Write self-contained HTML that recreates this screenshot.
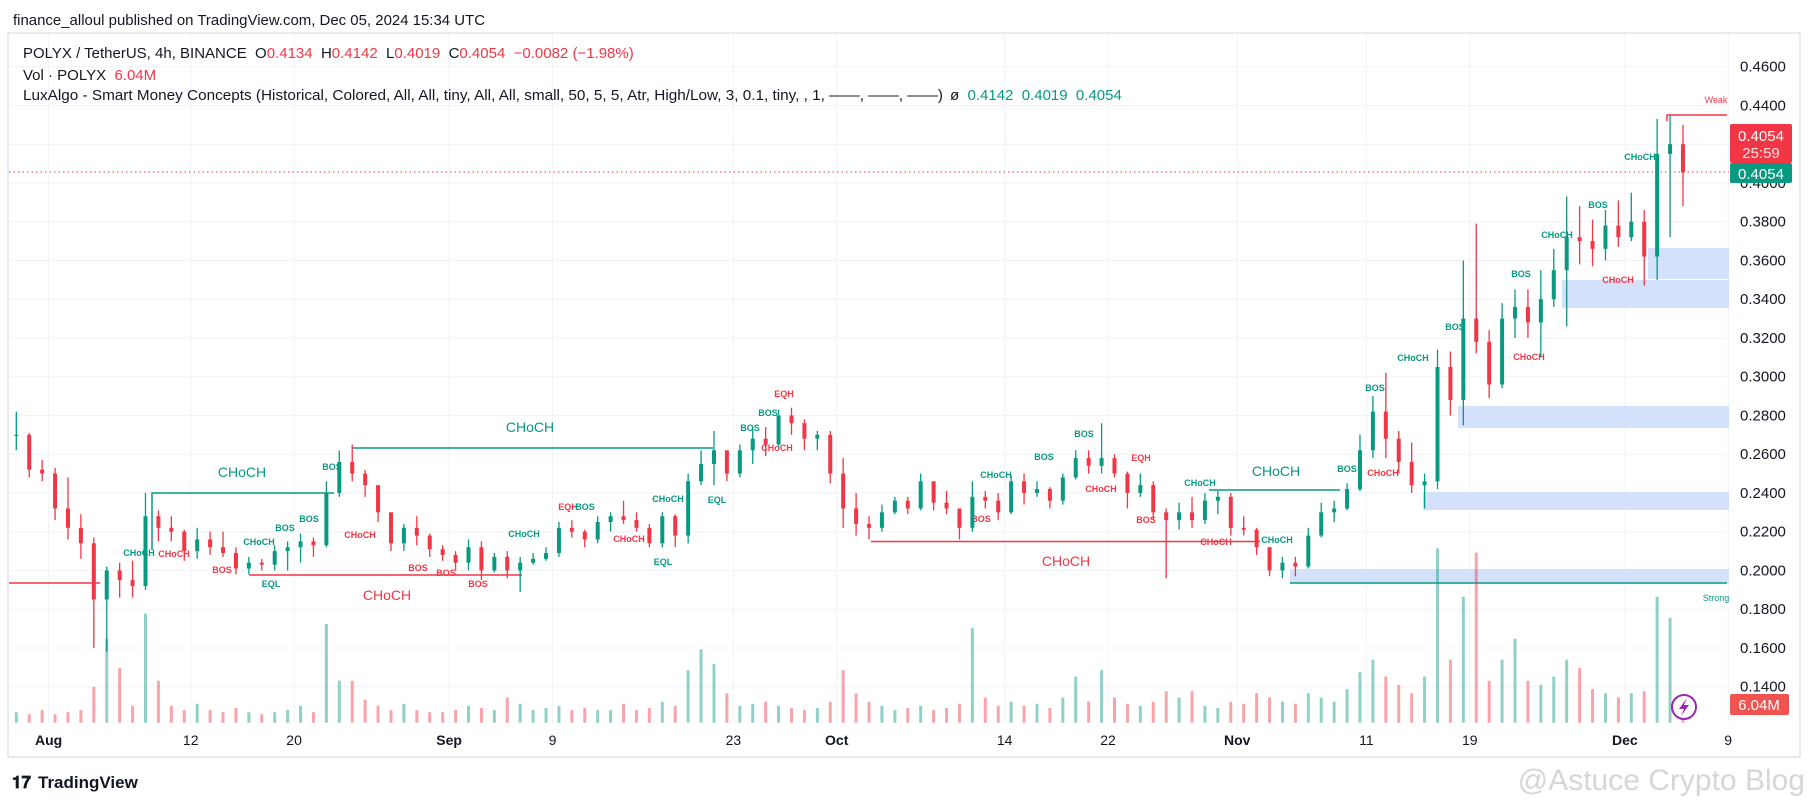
<!DOCTYPE html>
<html><head><meta charset="utf-8">
<style>
html,body{margin:0;padding:0;background:#fff;}
body{width:1814px;height:802px;overflow:hidden;font-family:"Liberation Sans",sans-serif;}
svg{display:block}
svg text{white-space:pre}
</style></head>
<body>
<svg id="chart" width="1814" height="802" viewBox="0 0 1814 802" xmlns="http://www.w3.org/2000/svg" font-family="Liberation Sans, sans-serif">
  <defs><clipPath id="plotclip"><rect x="9" y="34" width="1720" height="689"/></clipPath></defs>
  <text x="13" y="25" font-size="15" fill="#131722" textLength="472" lengthAdjust="spacingAndGlyphs">finance_alloul published on TradingView.com, Dec 05, 2024 15:34 UTC</text>
  <rect x="8" y="33" width="1792" height="724" fill="#fff" stroke="#e0e3eb" stroke-width="1.5"/>
  <g id="grid"></g>
  <g id="overlays" clip-path="url(#plotclip)">
    <rect x="1423" y="492" width="306" height="18" fill="#d3e1fb"/>
    <rect x="1458" y="406" width="271" height="22" fill="#d3e1fb"/>
    <rect x="1562" y="280" width="167" height="28" fill="#d3e1fb"/>
    <rect x="1648" y="248" width="81" height="31" fill="#d3e1fb"/>
    <rect x="1290" y="569" width="439" height="14" fill="#d3e1fb"/>
    <line x1="1290" y1="583" x2="1727" y2="583" stroke="#089981" stroke-width="1.5"/>
    <polyline points="1667,121 1667,115 1727,115" fill="none" stroke="#f23645" stroke-width="1.5"/>
    <line x1="9" y1="583" x2="100" y2="583" stroke="#f23645" stroke-width="1.5"/>
    <polyline points="152,550 152,493 334,493" fill="none" stroke="#089981" stroke-width="1.5"/>
    <line x1="352" y1="448" x2="713" y2="448" stroke="#089981" stroke-width="1.5"/>
    <line x1="249" y1="575" x2="522" y2="575" stroke="#f23645" stroke-width="1.5"/>
    <line x1="871" y1="541.5" x2="1260" y2="541.5" stroke="#f23645" stroke-width="1.5"/>
    <line x1="1209" y1="490" x2="1340" y2="490" stroke="#089981" stroke-width="1.5"/>
    <line x1="9" y1="172" x2="1729" y2="172" stroke="#f23645" stroke-width="1" stroke-dasharray="1.5,3"/>
    <g font-size="9" font-weight="bold">
      <text x="332" y="470" fill="#089981" text-anchor="middle">BOS</text>
      <text x="309" y="522" fill="#089981" text-anchor="middle">BOS</text>
      <text x="285" y="531" fill="#089981" text-anchor="middle">BOS</text>
      <text x="259" y="545" fill="#089981" text-anchor="middle">CHoCH</text>
      <text x="139" y="556" fill="#089981" text-anchor="middle">CHoCH</text>
      <text x="174" y="557" fill="#f23645" text-anchor="middle">CHoCH</text>
      <text x="222" y="573" fill="#f23645" text-anchor="middle">BOS</text>
      <text x="271" y="587" fill="#089981" text-anchor="middle">EQL</text>
      <text x="360" y="538" fill="#f23645" text-anchor="middle">CHoCH</text>
      <text x="418" y="571" fill="#f23645" text-anchor="middle">BOS</text>
      <text x="446" y="576" fill="#f23645" text-anchor="middle">BOS</text>
      <text x="478" y="587" fill="#f23645" text-anchor="middle">BOS</text>
      <text x="524" y="537" fill="#089981" text-anchor="middle">CHoCH</text>
      <text x="568" y="510" fill="#f23645" text-anchor="middle">EQH</text>
      <text x="585" y="510" fill="#089981" text-anchor="middle">BOS</text>
      <text x="784" y="397" fill="#f23645" text-anchor="middle">EQH</text>
      <text x="768" y="416" fill="#089981" text-anchor="middle">BOS</text>
      <text x="750" y="431" fill="#089981" text-anchor="middle">BOS</text>
      <text x="777" y="451" fill="#f23645" text-anchor="middle">CHoCH</text>
      <text x="668" y="502" fill="#089981" text-anchor="middle">CHoCH</text>
      <text x="717" y="503" fill="#089981" text-anchor="middle">EQL</text>
      <text x="629" y="542" fill="#f23645" text-anchor="middle">CHoCH</text>
      <text x="663" y="565" fill="#089981" text-anchor="middle">EQL</text>
      <text x="996" y="478" fill="#089981" text-anchor="middle">CHoCH</text>
      <text x="1044" y="460" fill="#089981" text-anchor="middle">BOS</text>
      <text x="1084" y="437" fill="#089981" text-anchor="middle">BOS</text>
      <text x="1141" y="461" fill="#f23645" text-anchor="middle">EQH</text>
      <text x="1101" y="492" fill="#f23645" text-anchor="middle">CHoCH</text>
      <text x="981" y="522" fill="#f23645" text-anchor="middle">BOS</text>
      <text x="1146" y="523" fill="#f23645" text-anchor="middle">BOS</text>
      <text x="1200" y="486" fill="#089981" text-anchor="middle">CHoCH</text>
      <text x="1277" y="543" fill="#089981" text-anchor="middle">CHoCH</text>
      <text x="1216" y="545" fill="#f23645" text-anchor="middle">CHoCH</text>
      <text x="1347" y="472" fill="#089981" text-anchor="middle">BOS</text>
      <text x="1383" y="476" fill="#f23645" text-anchor="middle">CHoCH</text>
      <text x="1375" y="391" fill="#089981" text-anchor="middle">BOS</text>
      <text x="1413" y="361" fill="#089981" text-anchor="middle">CHoCH</text>
      <text x="1455" y="330" fill="#089981" text-anchor="middle">BOS</text>
      <text x="1521" y="277" fill="#089981" text-anchor="middle">BOS</text>
      <text x="1529" y="360" fill="#f23645" text-anchor="middle">CHoCH</text>
      <text x="1557" y="238" fill="#089981" text-anchor="middle">CHoCH</text>
      <text x="1598" y="208" fill="#089981" text-anchor="middle">BOS</text>
      <text x="1618" y="283" fill="#f23645" text-anchor="middle">CHoCH</text>
      <text x="1640" y="160" fill="#089981" text-anchor="middle">CHoCH</text>
      <text x="1716" y="103" fill="#f23645" text-anchor="middle" font-weight="normal">Weak</text>
      <text x="1716" y="601" fill="#089981" text-anchor="middle" font-weight="normal">Strong</text>
    </g>
    <g font-size="14">
      <text x="242" y="477" fill="#089981" text-anchor="middle">CHoCH</text>
      <text x="530" y="432" fill="#089981" text-anchor="middle">CHoCH</text>
      <text x="387" y="600" fill="#f23645" text-anchor="middle">CHoCH</text>
      <text x="1066" y="566" fill="#f23645" text-anchor="middle">CHoCH</text>
      <text x="1276" y="476" fill="#089981" text-anchor="middle">CHoCH</text>
    </g>
  </g>
  <g id="volume" clip-path="url(#plotclip)"></g>
  <g id="candles" clip-path="url(#plotclip)"></g>
  <g id="yaxis"></g>
  <g id="xaxis"></g>
  <g font-size="15">
    <text x="23" y="58" fill="#131722">POLYX / TetherUS, 4h, BINANCE  O<tspan fill="#f23645">0.4134</tspan>  H<tspan fill="#f23645">0.4142</tspan>  L<tspan fill="#f23645">0.4019</tspan>  C<tspan fill="#f23645">0.4054  −0.0082 (−1.98%)</tspan></text>
    <text x="23" y="80" fill="#131722">Vol · POLYX  <tspan fill="#f23645">6.04M</tspan></text>
    <text x="23" y="100" fill="#131722" textLength="920" lengthAdjust="spacingAndGlyphs">LuxAlgo - Smart Money Concepts (Historical, Colored, All, All, tiny, All, All, small, 50, 5, 5, Atr, High/Low, 3, 0.1, tiny, , 1, ——, ——, ——)</text>
    <text x="950" y="100" fill="#131722">ø  <tspan fill="#089981">0.4142  0.4019  0.4054</tspan></text>
  </g>
  <rect x="1730" y="124" width="62" height="39" rx="2" fill="#f23645"/>
  <text x="1761" y="141" font-size="15" fill="#fff" text-anchor="middle">0.4054</text>
  <text x="1761" y="158" font-size="15" fill="#fde0e2" text-anchor="middle">25:59</text>
  <rect x="1730" y="163" width="62" height="20" rx="2" fill="#089981"/>
  <text x="1761" y="179" font-size="15" fill="#fff" text-anchor="middle">0.4054</text>
  <rect x="1730" y="694" width="59" height="21" rx="2" fill="#f05350"/>
  <text x="1759" y="710" font-size="15" fill="#fff" text-anchor="middle">6.04M</text>
  <g>
    <circle cx="1684" cy="707" r="12" fill="#fff" stroke="#9c27b0" stroke-width="2"/>
    <path d="M1687,698 L1679,709 L1684,709 L1681,716 L1689,705 L1684,705 Z" fill="#9c27b0"/>
  </g>
  <g>
    <text x="12" y="788" font-size="17" font-weight="bold" fill="#131722">𝟏𝟕</text>
    <text x="38" y="788" font-size="17" font-weight="bold" fill="#131722">TradingView</text>
  </g>
  <text x="1805" y="790" font-size="30" fill="#d6d6d6" text-anchor="end">@Astuce Crypto Blog</text>
</svg>
<script>
// Daily OHLC (day index from Aug 1, 2024)
const dayIdx = [];
for (let d = -3; d <= 126; d++) dayIdx.push(d);
const openP = [.270,.270,.252,.250,.232,.222,.214,.185,.200,.195,.192,.228,.222,.220,.210,.216,.212,.209,.201,.204,.203,.210,.212,.215,.213,.240,.256,.250,.244,.230,.214,.222,.218,.211,.208,.204,.212,.200,.207,.200,.204,.206,.209,.222,.220,.216,.225,.228,.226,.222,.214,.228,.218,.246,.255,.262,.250,.262,.268,.265,.280,.276,.268,.270,.250,.232,.224,.222,.230,.236,.232,.246,.235,.232,.222,.238,.236,.230,.246,.240,.242,.236,.248,.258,.254,.258,.250,.240,.244,.230,.226,.230,.226,.236,.238,.222,.221,.212,.200,.204,.202,.218,.230,.232,.242,.262,.282,.268,.256,.244,.246,.305,.288,.330,.318,.296,.330,.336,.328,.340,.355,.372,.370,.366,.378,.372,.380,.362,.415,.420];
const highP = [.282,.271,.257,.253,.248,.229,.217,.202,.204,.205,.240,.231,.228,.221,.222,.220,.220,.212,.207,.206,.213,.215,.219,.217,.246,.262,.265,.252,.244,.230,.224,.228,.219,.213,.210,.216,.215,.209,.210,.207,.209,.212,.225,.226,.221,.228,.230,.236,.230,.224,.230,.229,.250,.262,.272,.262,.265,.274,.274,.283,.284,.278,.272,.272,.258,.240,.228,.234,.238,.238,.250,.246,.241,.232,.246,.241,.240,.249,.250,.246,.243,.250,.262,.262,.276,.260,.251,.250,.246,.232,.235,.238,.240,.241,.240,.228,.222,.212,.207,.207,.222,.235,.236,.245,.270,.290,.302,.272,.266,.250,.314,.313,.360,.379,.324,.338,.345,.345,.355,.366,.393,.388,.381,.386,.391,.395,.386,.433,.435,.430];
const lowP = [.262,.248,.246,.226,.216,.206,.160,.158,.186,.186,.190,.215,.215,.205,.206,.208,.207,.198,.198,.200,.200,.200,.204,.207,.212,.238,.246,.238,.225,.210,.210,.213,.207,.205,.200,.200,.195,.199,.196,.189,.203,.205,.207,.217,.212,.214,.220,.224,.220,.212,.212,.212,.214,.244,.244,.246,.248,.255,.259,.263,.270,.262,.262,.245,.222,.218,.216,.220,.229,.229,.231,.231,.229,.216,.220,.232,.226,.229,.234,.238,.232,.234,.247,.250,.250,.248,.232,.238,.226,.196,.221,.222,.224,.229,.218,.218,.208,.197,.196,.197,.201,.217,.225,.231,.241,.258,.258,.250,.240,.232,.242,.280,.275,.312,.289,.294,.320,.320,.310,.336,.326,.358,.357,.360,.367,.370,.347,.350,.372,.388];
const closeP = [.270,.252,.250,.232,.222,.214,.185,.200,.195,.192,.228,.222,.220,.210,.216,.212,.209,.201,.204,.203,.210,.212,.215,.213,.240,.256,.250,.244,.230,.214,.222,.218,.211,.208,.204,.212,.200,.207,.200,.204,.206,.209,.222,.220,.216,.225,.228,.226,.222,.214,.228,.218,.246,.255,.262,.250,.262,.268,.265,.280,.276,.268,.270,.250,.232,.224,.222,.230,.236,.232,.246,.235,.232,.222,.238,.236,.230,.246,.240,.242,.236,.248,.258,.254,.258,.250,.240,.244,.230,.226,.230,.226,.236,.238,.222,.221,.212,.200,.204,.202,.218,.230,.232,.242,.262,.282,.268,.256,.244,.246,.305,.288,.330,.318,.296,.330,.336,.328,.340,.355,.372,.370,.366,.378,.372,.380,.362,.415,.420,.4054];
const volM = [5,4,6,4,5,6,17,40,26,8,52,20,8,6,9,6,5,7,5,4,5,6,8,5,47,20,20,11,8,6,9,6,5,5,6,8,7,6,12,9,6,7,8,6,7,6,6,9,6,7,10,8,25,35,28,14,8,9,10,8,7,6,7,10,25,14,10,8,6,7,8,6,7,9,45,12,8,10,8,9,7,12,22,10,25,12,9,8,10,15,12,15,8,7,10,9,14,12,10,9,14,12,10,16,24,30,22,18,14,22,83,30,60,81,20,30,40,20,18,22,30,26,16,14,12,14,15,60,50,8];
const priceTicks = [0.14,0.16,0.18,0.20,0.22,0.24,0.26,0.28,0.30,0.32,0.34,0.36,0.38,0.40,0.42,0.44,0.46];
const timeTickDays = [0,11,19,31,39,53,61,74,82,92,102,110,122,130];
const timeTickLabels = ["Aug","12","20","Sep","9","23","Oct","14","22","Nov","11","19","Dec","9"];
const timeTickBold = [true,false,false,true,false,false,true,false,false,true,false,false,true,false];

const NS = "http://www.w3.org/2000/svg";
function xScale(d){ return 48.6 + d*12.92; }
function yScale(p){ return 66.7 + (0.46 - p)*1937.5; }
function vScale(v){ return v*2.1; }
const VBASE = 722.7;
function mk(tag, attrs, parent){ const e=document.createElementNS(NS,tag); for(const k in attrs) e.setAttribute(k,attrs[k]); parent.appendChild(e); return e; }

const grid=document.getElementById('grid'), yaxis=document.getElementById('yaxis'), xaxis=document.getElementById('xaxis');
priceTicks.forEach(p=>{
  const y=yScale(p);
  const gl=mk('line',{x1:9,x2:1729,y1:y,y2:y,stroke:'#f0f3fa','stroke-width':1},grid);
  
  
  const t=mk('text',{x:1740,y:y+5,'font-size':15,fill:'#131722'},yaxis);
  t.textContent=p.toFixed(4);
  
  
});
timeTickDays.forEach((d,i)=>{
  const x=xScale(d);
  if(x<1729){
    const gl=mk('line',{x1:x,x2:x,y1:34,y2:723,stroke:'#f0f3fa','stroke-width':1},grid);
    
    
  }
  const t=mk('text',{x:x,y:745,'font-size':14,fill:'#131722','text-anchor':'middle','font-weight':timeTickBold[i]?'bold':'normal'},xaxis);
  t.textContent=timeTickLabels[i];
  
  
});
const vg=document.getElementById('volume'), cg=document.getElementById('candles');
dayIdx.forEach((d,i)=>{
  const up = closeP[i] >= openP[i];
  const col = up ? '#089981' : '#f23645';
  const xc = xScale(d+0.5);
  const h = vScale(volM[i]);
  const vb=mk('rect',{x:xc-1.5,y:VBASE-h,width:3,height:h,fill:up?'rgba(8,153,129,0.45)':'rgba(242,54,69,0.45)'},vg);
  
  
  const wick=mk('line',{x1:xc,x2:xc,y1:yScale(highP[i]),y2:yScale(lowP[i]),stroke:col,'stroke-width':1.3},cg);
  
  
  const yt=yScale(Math.max(openP[i],closeP[i])), yb=yScale(Math.min(openP[i],closeP[i]));
  const body=mk('rect',{x:xc-2,y:yt,width:4,height:Math.max(1,yb-yt),fill:col},cg);
  
  
});
</script>
</body></html>
